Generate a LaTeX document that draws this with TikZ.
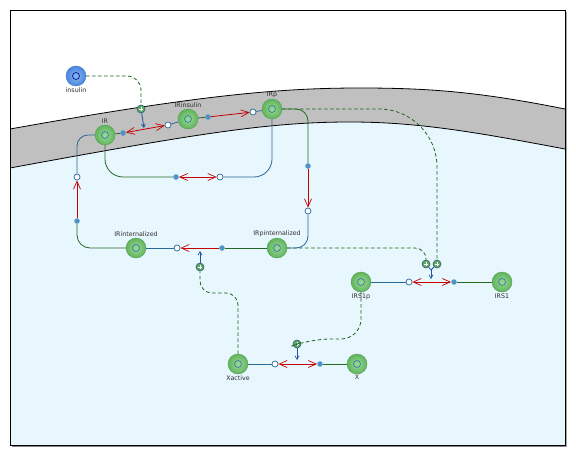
\documentclass[tikz,border=0pt]{standalone}
\usepackage{fontspec}
\setmainfont{DejaVu Sans}
\usetikzlibrary{arrows.meta,calc,shadings}
\definecolor{cellblue}{HTML}{E8F6FE}
\definecolor{memgray}{HTML}{C0C0C0}
\definecolor{lgreen}{HTML}{236B23}
\definecolor{lblue}{HTML}{2A6898}
\definecolor{lred}{HTML}{C40000}
\definecolor{dotblue}{HTML}{4E92C6}
\definecolor{modblue}{HTML}{1F55A0}
\definecolor{dgreen}{HTML}{1E661E}
\definecolor{ringblue}{HTML}{2F74B0}
\definecolor{labgray}{HTML}{2E2E2E}
\definecolor{plusfill}{HTML}{5FA86A}
\definecolor{plusedge}{HTML}{2A5E6E}
\definecolor{specin}{HTML}{9CD896}
\definecolor{specout}{HTML}{60B45C}
\definecolor{specedge}{HTML}{52A052}
\definecolor{insin}{HTML}{86B8F4}
\definecolor{insout}{HTML}{4A86DA}
\definecolor{insedge}{HTML}{3F74C4}
\tikzset{
  rtip/.tip={Straight Barb[length=8pt,width=7pt,line width=0.7pt]},
  btip/.tip={Straight Barb[length=3.5pt,width=4pt,line width=0.7pt]},
  lab/.style={font=\fontsize{6.3}{7}\selectfont, text=labgray, inner sep=1pt},
  spec/.style={circle, minimum size=20pt, inner sep=0pt, draw=specedge, line width=0.4pt,
    inner color=specin, outer color=specout,
    path picture={\draw[ringblue, line width=0.6pt] (path picture bounding box.center) circle (3.5pt);}},
  bluespec/.style={circle, minimum size=20pt, inner sep=0pt, draw=insedge, line width=0.4pt,
    inner color=insin, outer color=insout,
    path picture={\draw[blue!55!black, line width=0.6pt] (path picture bounding box.center) circle (3.5pt);}},
  rdot/.style={circle, fill=dotblue, inner sep=0pt, minimum size=5.5pt},
  ropen/.style={circle, fill=white, draw=lblue, line width=0.7pt, inner sep=0pt, minimum size=6pt},
  rplus/.style={circle, fill=plusfill, draw=plusedge, line width=0.6pt, inner sep=0pt, minimum size=8pt,
    path picture={\draw[white, line width=1pt]
      ($(path picture bounding box.center)+(-2.4pt,0pt)$) -- ($(path picture bounding box.center)+(2.4pt,0pt)$)
      ($(path picture bounding box.center)+(0pt,-2.4pt)$) -- ($(path picture bounding box.center)+(0pt,2.4pt)$);}},
  glin/.style={draw=lgreen, line width=0.8pt},
  blin/.style={draw=lblue, line width=0.8pt},
  rlin/.style={draw=lred, line width=0.8pt},
  modline/.style={draw=dgreen, line width=0.8pt, dash pattern=on 3.5pt off 2.5pt},
  modarrow/.style={draw=modblue, line width=0.8pt, -{btip}},
}
\begin{document}
\begin{tikzpicture}[x=1pt,y=-1pt]
\useasboundingbox (0,0) rectangle (576,458);
\fill[white] (0,0) rectangle (576,458);
% frame shadow
\fill[black!50] (11.5,445) rectangle (567,447);
\fill[black!35] (565,12) rectangle (566.5,447);
\begin{scope}
\clip (10,10.5) rectangle (565,445);
\fill[cellblue] (10,10) rectangle (565,445);
\fill[white] (10,0) -- (10,129) .. controls (200,95) and (280,88) .. (360,88)
   .. controls (430,88) and (480,92) .. (565,109) -- (565,0) -- cycle;
\fill[memgray] (10,129) .. controls (200,95) and (280,88) .. (360,88)
   .. controls (430,88) and (480,92) .. (565,109) -- (565,149)
   .. controls (480,133) and (420,122) .. (350,122)
   .. controls (270,122) and (200,133) .. (10,168) -- cycle;
\draw[black, line width=0.8pt] (10,129) .. controls (200,95) and (280,88) .. (360,88)
   .. controls (430,88) and (480,92) .. (565,109);
\draw[black, line width=0.8pt] (10,168) .. controls (200,133) and (270,122) .. (350,122)
   .. controls (420,122) and (480,133) .. (565,149);
\end{scope}
\draw[black, line width=0.8pt] (10,10.5) rectangle (565,445);

% species
\node[bluespec, label={[lab]below:insulin}] (insulin) at (76,76) {};
\node[spec, label={[lab]above:IR}] (IR) at (105,135) {};
\node[spec, label={[lab]above:IRinsulin}] (IRinsulin) at (188,119) {};
\node[spec, label={[lab]above:IRp}] (IRp) at (272,109) {};
\node[spec, label={[lab]above:IRinternalized}] (IRint) at (136,248) {};
\node[spec, label={[lab]above:IRpinternalized}] (IRpint) at (277,248) {};
\node[spec, label={[lab]below:IRS1p}] (IRS1p) at (361,282) {};
\node[spec, label={[lab]below:IRS1}] (IRS1) at (502,282) {};
\node[spec, label={[lab]below:Xactive}] (Xactive) at (238,364) {};
\node[spec, label={[lab]below:X}] (X) at (357,364) {};

% reaction points
\node[rdot] (d1) at (123,133) {};  \node[ropen] (o1) at (168,125) {};
\node[rdot] (d2) at (208,117) {};  \node[ropen] (o2) at (253,112) {};
\node[rdot] (d3) at (176,177) {};  \node[ropen] (o3) at (220,177) {};
\node[rdot] (d4) at (308,166) {};  \node[ropen] (o4) at (308,211) {};
\node[rdot] (d5) at (222,248) {};  \node[ropen] (o5) at (177,248) {};
\node[rdot] (d6) at (77,221) {};   \node[ropen] (o6) at (77,177) {};
\node[rdot] (d7) at (454,282) {};  \node[ropen] (o7) at (409,282) {};
\node[rdot] (d8) at (320,364) {};  \node[ropen] (o8) at (275,364) {};

% modifier points
\node[rplus] (p1) at (141,109) {};
\node[rplus] (p2) at (437,264) {};
\node[rplus] (p3) at (426,264) {};
\node[rplus] (p4) at (200,267) {};
\node[rplus] (p5) at (297,344) {};
\coordinate (t1) at (144,128);
\coordinate (j7) at (431,270);
\coordinate (t7) at (431,279);
\coordinate (t4) at (200,251);
\coordinate (t5) at (297,360);
\coordinate (b4) at (200,293);
\coordinate (b5) at (310,339);

% dashed modifier lines
\draw[modline, rounded corners=14pt] (insulin.east) -| (p1);
\draw[modline, rounded corners=58pt] (IRp.east) -| (p2);
\draw[modline, rounded corners=11pt] (IRpint.east) -| (p3);
\draw[modline, rounded corners=12pt] (Xactive.north) |- (b4) -- (p4);
\draw[modline, rounded corners=20pt] (IRS1p.south) |- (b5) -- (p5);

% modifier arrows
\draw[modarrow] (p1) -- (t1);
\draw[modarrow] (p4) -- (t4);
\draw[modarrow] (p5) -- (t5);
\draw[draw=modblue, line width=0.8pt] (p3) -- (j7);
\draw[draw=modblue, line width=0.8pt] (p2) -- (j7);
\draw[modarrow] (j7) -- (t7);

% R1 IR <-> IRinsulin
\draw[glin] (IR) -- (d1);
\draw[rlin, {rtip}-{rtip}] (d1) -- (o1);
\draw[blin] (o1) -- (IRinsulin);
% R2 IRinsulin -> IRp
\draw[glin] (IRinsulin) -- (d2);
\draw[rlin, -{rtip}] (d2) -- (o2);
\draw[blin] (o2) -- (IRp);
% R3 IR <-> IRp
\draw[glin, rounded corners=18pt] (IR.south) |- (d3);
\draw[rlin, {rtip}-{rtip}] (d3) -- (o3);
\draw[blin, rounded corners=18pt] (o3) -| (IRp.south);
% R4 IRp -> IRpinternalized
\draw[glin, rounded corners=12pt] (IRp.east) -| (d4);
\draw[rlin, -{rtip}] (d4) -- (o4);
\draw[blin, rounded corners=12pt] (o4) |- (IRpint.east);
% R5 IRpinternalized -> IRinternalized
\draw[glin] (IRpint) -- (d5);
\draw[rlin, -{rtip}] (d5) -- (o5);
\draw[blin] (o5) -- (IRint);
% R6 IRinternalized -> IR
\draw[glin, rounded corners=13pt] (IRint.west) -| (d6);
\draw[rlin, -{rtip}] (d6) -- (o6);
\draw[blin, rounded corners=11pt] (o6) |- (IR.west);
% R7 IRS1 <-> IRS1p
\draw[glin] (IRS1) -- (d7);
\draw[rlin, {rtip}-{rtip}] (d7) -- (o7);
\draw[blin] (o7) -- (IRS1p);
% R8 X <-> Xactive
\draw[glin] (X) -- (d8);
\draw[rlin, {rtip}-{rtip}] (d8) -- (o8);
\draw[blin] (o8) -- (Xactive);
\end{tikzpicture}
\end{document}
